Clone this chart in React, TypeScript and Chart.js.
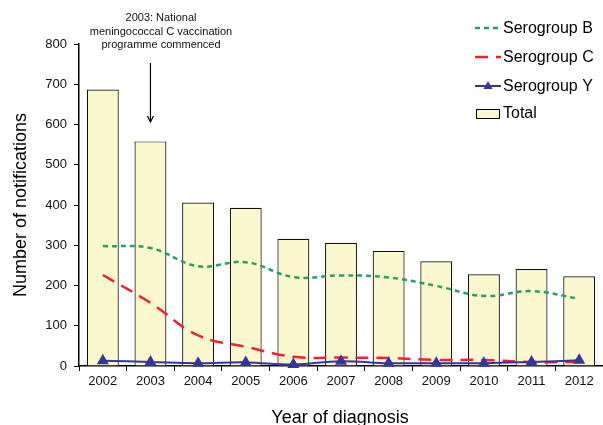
import React, { useEffect, useRef } from "react";
import { Chart, registerables } from "chart.js";

Chart.register(...registerables);

const years = ["2002", "2003", "2004", "2005", "2006", "2007", "2008", "2009", "2010", "2011", "2012"];
const total = [687, 558, 406, 393, 316, 306, 286, 260, 228, 241, 223];
const serogroupB = [298, 293, 248, 258, 221, 225, 220, 199, 174, 186, 167];
const serogroupC = [226, 157, 76, 48, 23, 21, 20, 15, 15, 10, 10];
const serogroupY = [13, 10, 7, 9, 4, 12, 7, 7, 7, 10, 14];
const yMax = 800;
const yStep = 100;
const annotationLines = ["2003: National", "meningococcal C vaccination", "programme commenced"];
const annotationYear = "2003";

const FONT = "'Liberation Sans', Arial, sans-serif";
const BAR_FILL = "#FBF8D0";
const GREEN = "#2E9A66";
const RED = "#EE2233";
const BLUE = "#35359A";

const overlayPlugin = {
  id: "overlay",
  afterDraw(chart: any) {
    const ctx = chart.ctx as CanvasRenderingContext2D;
    const area = chart.chartArea;
    ctx.save();
    // axis titles
    ctx.fillStyle = "#000";
    ctx.font = `18px ${FONT}`;
    ctx.textAlign = "center";
    ctx.textBaseline = "alphabetic";
    ctx.fillText("Year of diagnosis", 340, 423);
    ctx.save();
    ctx.translate(26, (area.top + area.bottom) / 2);
    ctx.rotate(-Math.PI / 2);
    ctx.fillText("Number of notifications", 0, 0);
    ctx.restore();

    // annotation
    ctx.font = `11px ${FONT}`;
    ctx.fillStyle = "#111";
    ctx.textBaseline = "middle";
    annotationLines.forEach((t, i) => ctx.fillText(t, 161, 18 + i * 13.5));
    const ax = chart.scales.x.getPixelForValue(years.indexOf(annotationYear));
    ctx.strokeStyle = "#000";
    ctx.lineWidth = 1.2;
    ctx.beginPath();
    ctx.moveTo(ax, 63);
    ctx.lineTo(ax, 122);
    ctx.stroke();
    ctx.beginPath();
    ctx.moveTo(ax - 3, 116);
    ctx.lineTo(ax, 122);
    ctx.lineTo(ax + 3, 116);
    ctx.stroke();

    // legend
    const lx = 475;
    const lw = 26;
    const tx = 503;
    ctx.font = `16px ${FONT}`;
    ctx.textAlign = "left";
    ctx.textBaseline = "middle";
    const items = [
      { label: "Serogroup B", y: 28, color: GREEN, dash: [5, 4], width: 2.5, tri: false },
      { label: "Serogroup C", y: 57, color: RED, dash: [13, 8], width: 2.5, tri: false },
      { label: "Serogroup Y", y: 86, color: BLUE, dash: [], width: 2, tri: true },
    ];
    items.forEach((it) => {
      ctx.strokeStyle = it.color;
      ctx.lineWidth = it.width;
      ctx.setLineDash(it.dash);
      ctx.beginPath();
      ctx.moveTo(lx, it.y);
      ctx.lineTo(lx + lw, it.y);
      ctx.stroke();
      ctx.setLineDash([]);
      if (it.tri) {
        ctx.fillStyle = it.color;
        const cx = lx + lw / 2;
        ctx.beginPath();
        ctx.moveTo(cx, it.y - 5);
        ctx.lineTo(cx + 4.5, it.y + 3);
        ctx.lineTo(cx - 4.5, it.y + 3);
        ctx.closePath();
        ctx.fill();
      }
      ctx.fillStyle = "#000";
      ctx.fillText(it.label, tx, it.y + 1);
    });
    ctx.fillStyle = BAR_FILL;
    ctx.fillRect(lx + 1, 109, 24, 10);
    ctx.strokeStyle = "#000";
    ctx.lineWidth = 1;
    ctx.strokeRect(lx + 1.5, 109.5, 23, 9);
    ctx.fillStyle = "#000";
    ctx.fillText("Total", tx, 114);
    ctx.restore();
  },
};

export default function App() {
  const ref = useRef<HTMLCanvasElement | null>(null);
  useEffect(() => {
    if (!ref.current) return;
    const chart = new Chart(ref.current, {
      type: "bar",
      data: {
        labels: years,
        datasets: [
          {
            type: "line",
            label: "Serogroup B",
            data: serogroupB,
            borderColor: GREEN,
            borderWidth: 2.5,
            borderDash: [5, 4],
            pointRadius: 0,
            tension: 0.4,
            order: 1,
          } as any,
          {
            type: "line",
            label: "Serogroup C",
            data: serogroupC,
            borderColor: RED,
            borderWidth: 2.5,
            borderDash: [13, 8],
            pointRadius: 0,
            tension: 0.4,
            order: 1,
          } as any,
          {
            type: "line",
            label: "Serogroup Y",
            data: serogroupY,
            borderColor: BLUE,
            backgroundColor: BLUE,
            borderWidth: 2,
            pointStyle: "triangle",
            pointRadius: 5,
            pointBackgroundColor: BLUE,
            pointBorderColor: BLUE,
            tension: 0.4,
            clip: false,
            order: 0,
          } as any,
          {
            type: "bar",
            label: "Total",
            data: total,
            backgroundColor: BAR_FILL,
            borderColor: "#111",
            borderWidth: 1.2,
            barPercentage: 0.67,
            categoryPercentage: 1,
            order: 2,
          } as any,
        ],
      },
      options: {
        animation: false,
        responsive: false,
        layout: { autoPadding: false, padding: { top: 44, right: 0, left: 0, bottom: 0 } },
        plugins: { legend: { display: false }, tooltip: { enabled: false } },
        scales: {
          x: {
            offset: true,
            grid: { offset: true, drawOnChartArea: false, drawTicks: true, tickLength: 5, color: "#000" },
            border: { color: "#000", width: 1.5 },
            ticks: { font: { family: FONT, size: 13 }, color: "#111", padding: 3, maxRotation: 0 },
            afterFit: (s: any) => {
              s.height = 59;
              s.paddingLeft = 0;
              s.paddingRight = 0;
            },
          },
          y: {
            min: 0,
            max: yMax,
            ticks: { stepSize: yStep, font: { family: FONT, size: 13 }, color: "#111", padding: 7 },
            grid: { drawOnChartArea: false, drawTicks: true, tickLength: 5, color: "#000" },
            border: { color: "#000", width: 1.5 },
            afterFit: (s: any) => {
              s.width = 79;
            },
          },
        },
      } as any,
      plugins: [overlayPlugin],
    });
    return () => chart.destroy();
  }, []);
  return (
    <div style={{ position: "absolute", left: 0, top: 0, width: 603, height: 425, background: "#fff" }}>
      <canvas ref={ref} width={603} height={425} style={{ display: "block" }} />
    </div>
  );
}
